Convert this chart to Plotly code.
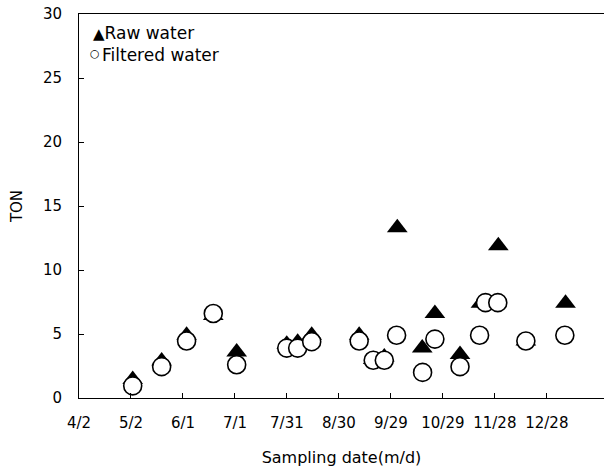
import plotly.graph_objects as go

# x values: days since 4/2
tick_days = [0, 30, 60, 90, 120, 150, 180, 210, 240, 270]
tick_labels = ["4/2", "5/2", "6/1", "7/1", "7/31", "8/30", "9/29", "10/29", "11/28", "12/28"]
y_ticks = [0, 5, 10, 15, 20, 25, 30]

raw_days = [31.0, 47.7, 62.1, 77.5, 91.0, 119.9, 126.2, 134.3, 161.7, 169.8,
            176.2, 183.7, 198.1, 205.4, 219.9, 232.0, 242.0, 257.9, 280.8]
raw_ton = [1.45, 2.9, 4.9, 6.45, 3.6, 4.2, 4.35, 4.9, 4.9, 3.0,
           3.2, 13.3, 3.9, 6.6, 3.4, 7.4, 11.9, 4.45, 7.4]

filt_days = [31.0, 47.7, 62.1, 77.5, 91.0, 119.9, 126.2, 134.3, 161.7, 169.8,
             176.2, 183.3, 198.3, 205.4, 219.9, 231.2, 234.6, 241.7, 257.9, 280.4]
filt_ton = [0.95, 2.45, 4.45, 6.6, 2.6, 3.9, 3.9, 4.4, 4.45, 2.95,
            2.95, 4.9, 2.0, 4.6, 2.45, 4.9, 7.45, 7.45, 4.45, 4.9]

FONT = "DejaVu Sans, Liberation Sans, sans-serif"

fig = go.Figure()
fig.add_trace(go.Scatter(
    x=raw_days, y=raw_ton, mode="markers", name="Raw water",
    marker=dict(symbol="triangle-up", size=18, color="black", line=dict(width=0)),
    showlegend=False, cliponaxis=False))
fig.add_trace(go.Scatter(
    x=filt_days, y=filt_ton, mode="markers", name="Filtered water",
    marker=dict(symbol="circle", size=18, color="white", line=dict(width=1.6, color="black")),
    showlegend=False, cliponaxis=False))

L, R, T, B = 79, 0, 14, 72
pw, ph = 604 - L - R, 470 - T - B
def px(xp):
    return (xp - L) / pw
def py(yp):
    return (470 - B - yp) / ph

fig.add_annotation(x=px(92), y=py(33), xref="paper", yref="paper",
                   text="<span style='font-size:15px'>▲</span>Raw water",
                   showarrow=False, xanchor="left", yanchor="middle", borderpad=0,
                   font=dict(family=FONT, size=17, color="black"))
fig.add_annotation(x=px(101), y=py(53), xref="paper", yref="paper",
                   text="○",
                   showarrow=False, xanchor="right", yanchor="middle", borderpad=0,
                   font=dict(family=FONT, size=11, color="black"))
fig.add_annotation(x=px(101), y=py(55), xref="paper", yref="paper",
                   text="Filtered water",
                   showarrow=False, xanchor="left", yanchor="middle", borderpad=0,
                   font=dict(family=FONT, size=17, color="black"))

fig.update_layout(
    width=604, height=470,
    margin=dict(l=L, r=R, t=T, b=B),
    paper_bgcolor="white", plot_bgcolor="white",
    font=dict(family=FONT, size=15, color="black"),
)

fig.update_xaxes(
    range=[0, 303], tickmode="array", tickvals=tick_days, ticktext=tick_labels,
    ticks="inside", ticklen=5, tickcolor="black", tickwidth=1,
    showline=True, linecolor="black", linewidth=1, mirror=True,
    showgrid=False, zeroline=False,
    tickfont=dict(family=FONT, size=15),
    ticklabelstandoff=11,
    title=dict(text="Sampling date(m/d)", font=dict(family=FONT, size=16), standoff=20),
)
fig.update_yaxes(
    range=[0, 30], tickmode="array", tickvals=y_ticks,
    ticks="inside", ticklen=5, tickcolor="black", tickwidth=1,
    showline=True, linecolor="black", linewidth=1,
    showgrid=False, zeroline=False,
    tickfont=dict(family=FONT, size=15),
    ticklabelstandoff=13,
    title=dict(text="TON", font=dict(family=FONT, size=15), standoff=16),
)

fig.write_html("out.html")
